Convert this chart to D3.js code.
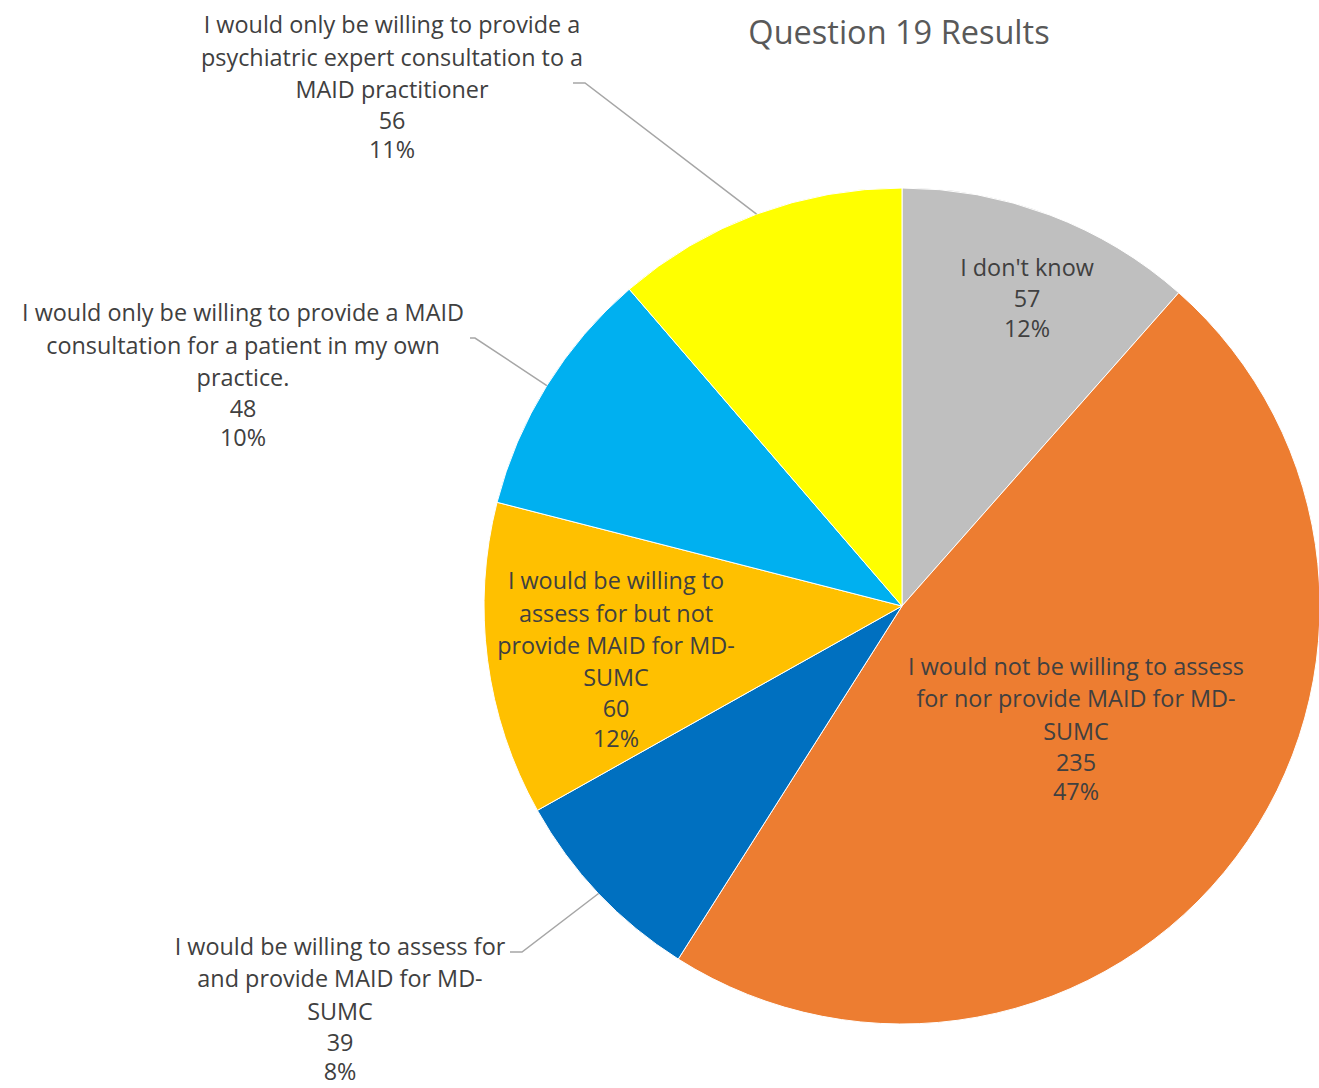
<!DOCTYPE html>
<html>
<head>
<meta charset="utf-8">
<script src="https://cdn.jsdelivr.net/npm/d3@7"></script>
<style>
  html, body { margin: 0; padding: 0; background: #ffffff; }
  svg { display: block; }
  text { font-family: "Open Sans", Lato, sans-serif; }
</style>
</head>
<body>
<svg id="chart" width="1319" height="1088"></svg>
<script>
// Survey responses, clockwise from 12 o'clock
const categories = [
  "I don't know",
  "I would not be willing to assess for nor provide MAID for MD-SUMC",
  "I would be willing to assess for and provide MAID for MD-SUMC",
  "I would be willing to assess for but not provide MAID for MD-SUMC",
  "I would only be willing to provide a MAID consultation for a patient in my own practice.",
  "I would only be willing to provide a psychiatric expert consultation to a MAID practitioner"
];
const counts = [57, 235, 39, 60, 48, 56];
const percentLabels = ["12%", "47%", "8%", "12%", "10%", "11%"];
// Wrapped label lines as they appear on the chart
const labelLines = [
  ["I don't know"],
  ["I would not be willing to assess", "for nor provide MAID for MD-", "SUMC"],
  ["I would be willing to assess for", "and provide MAID for MD-", "SUMC"],
  ["I would be willing to", "assess for but not", "provide MAID for MD-", "SUMC"],
  ["I would only be willing to provide a MAID", "consultation for a patient in my own", "practice."],
  ["I would only be willing to provide a", "psychiatric expert consultation to a", "MAID practitioner"]
];
const sliceColors = ["#BFBFBF", "#ED7D31", "#0070C0", "#FFC000", "#00B0F0", "#FFFF00"];
const title = "Question 19 Results";

const svg = d3.select("#chart");
const cx = 902, cy = 606, radius = 418;

const g = svg.append("g").attr("transform", `translate(${cx},${cy})`);

const pie = d3.pie().sort(null).value(d => d)(counts);
const arc = d3.arc().innerRadius(0).outerRadius(radius);

g.selectAll("path.slice")
  .data(pie)
  .join("path")
  .attr("class", "slice")
  .attr("d", arc)
  .attr("fill", (d, i) => sliceColors[i])
  .attr("stroke", "#ffffff")
  .attr("stroke-width", 1);

// Label placement: inside labels sit in the slice, outside ones use a leader line
const textLineH = 32.3;   // spacing between wrapped category lines
const countGap = 31;      // category -> count
const pctGap = 29.5;      // count -> percentage
const fontSize = 23.4;
const placement = [
  { inside: true, x: 125, y: -338 },
  { inside: true, x: 174, y: 61 },
  { inside: false, x: -562, y: 341, lx: -392, ly: 346, lx2: -380 },
  { inside: true, x: -286, y: -25 },
  { inside: false, x: -659, y: -293, lx: -432, ly: -268, lx2: -427 },
  { inside: false, x: -510, y: -581, lx: -329, ly: -523, lx2: -317 }
];

pie.forEach((d, i) => {
  const p = placement[i];
  const cat = labelLines[i];
  const rows = cat.map((s, k) => ({ s, y: p.y + k * textLineH }));
  const lastY = rows[rows.length - 1].y;
  rows.push({ s: String(counts[i]), y: lastY + countGap });
  rows.push({ s: percentLabels[i], y: lastY + countGap + pctGap });
  const t = g.append("text")
    .attr("text-anchor", "middle")
    .attr("fill", "#404040")
    .attr("font-size", fontSize);
  rows.forEach(r => {
    t.append("tspan")
      .attr("x", p.x)
      .attr("y", r.y)
      .attr("dy", "0.35em")
      .text(r.s);
  });
  if (!p.inside) {
    const mid = (d.startAngle + d.endAngle) / 2;
    const ex = Math.sin(mid) * radius, ey = -Math.cos(mid) * radius;
    g.append("path")
      .attr("d", `M${p.lx},${p.ly}L${p.lx2},${p.ly}L${ex},${ey}`)
      .attr("fill", "none")
      .attr("stroke", "#A6A6A6")
      .attr("stroke-width", 1.5);
  }
});

svg.append("text")
  .attr("x", 899)
  .attr("y", 33)
  .attr("dy", "0.35em")
  .attr("text-anchor", "middle")
  .attr("fill", "#595959")
  .attr("font-size", 32.5)
  .text(title);
</script>
</body>
</html>
